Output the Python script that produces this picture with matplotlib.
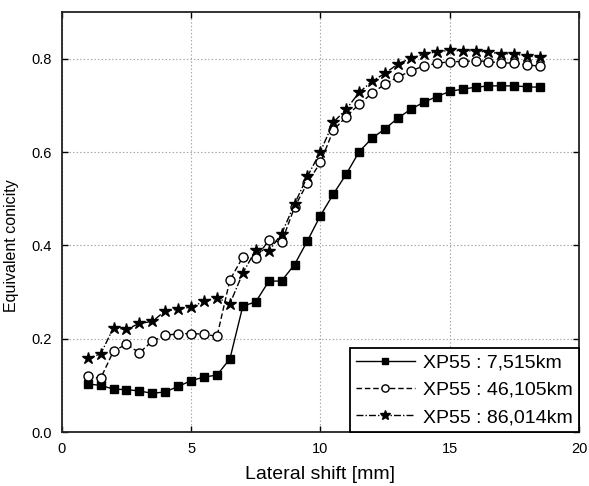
import numpy as np
import matplotlib.pyplot as plt

plt.rcParams['font.family'] = ['Liberation Sans', 'DejaVu Sans']

# lateral shift positions [mm]
shift = [1.0, 1.5, 2.0, 2.5, 3.0, 3.5, 4.0, 4.5, 5.0, 5.5, 6.0, 6.5,
         7.0, 7.5, 8.0, 8.5, 9.0, 9.5, 10.0, 10.5, 11.0, 11.5, 12.0, 12.5,
         13.0, 13.5, 14.0, 14.5, 15.0, 15.5, 16.0, 16.5, 17.0, 17.5, 18.0, 18.5]

# equivalent conicity
con_7515 = [0.103, 0.100, 0.092, 0.091, 0.088, 0.083, 0.086, 0.098, 0.110, 0.118, 0.122, 0.157,
            0.270, 0.279, 0.323, 0.324, 0.359, 0.410, 0.464, 0.510, 0.553, 0.601, 0.630, 0.650,
            0.673, 0.692, 0.707, 0.719, 0.730, 0.735, 0.739, 0.742, 0.742, 0.742, 0.740, 0.739]
con_46105 = [0.120, 0.115, 0.174, 0.188, 0.170, 0.195, 0.207, 0.211, 0.211, 0.210, 0.205, 0.326,
             0.375, 0.372, 0.411, 0.407, 0.482, 0.534, 0.578, 0.647, 0.676, 0.703, 0.726, 0.746,
             0.761, 0.774, 0.785, 0.790, 0.794, 0.794, 0.796, 0.794, 0.791, 0.791, 0.787, 0.784]
con_86014 = [0.158, 0.167, 0.224, 0.220, 0.233, 0.237, 0.260, 0.263, 0.268, 0.280, 0.288, 0.275,
             0.341, 0.390, 0.388, 0.425, 0.489, 0.548, 0.601, 0.664, 0.692, 0.728, 0.752, 0.769,
             0.789, 0.801, 0.810, 0.815, 0.818, 0.817, 0.817, 0.814, 0.811, 0.810, 0.806, 0.803]

labels = ['XP55 : 7,515km', 'XP55 : 46,105km', 'XP55 : 86,014km']

fig = plt.figure(figsize=(5.89, 4.86), dpi=100)
ax = fig.add_axes([0.105, 0.111, 0.878, 0.864])

ax.plot(shift, con_7515, color='black', ls='-', lw=1.0, marker='s', ms=6,
        mfc='black', label=labels[0])
ax.plot(shift, con_46105, color='black', ls=(0, (4, 2)), lw=1.0, marker='o', ms=6.5,
        mfc='white', mew=1.0, label=labels[1])
ax.plot(shift, con_86014, color='black', ls=(0, (5, 1.5, 1, 1.5)), lw=1.0, marker='*', ms=9,
        mfc='black', label=labels[2])

ax.set_xlim(0, 20)
ax.set_ylim(0, 0.9)
ax.set_xticks([0, 5, 10, 15, 20])
ax.set_yticks([0.0, 0.2, 0.4, 0.6, 0.8])
ax.set_yticklabels(['0.0', '0.2', '0.4', '0.6', '0.8'])

ax.grid(True, ls=(0, (1.2, 2)), color='#a0a0a0', lw=0.8)
ax.tick_params(direction='in', length=4, width=1, top=True, right=True,
               labelsize=10.5, pad=7)
for s in ax.spines.values():
    s.set_linewidth(1.3)
    s.set_color('#222222')

ax.set_xlabel('Lateral shift [mm]', fontsize=14)
ax.set_ylabel('Equivalent conicity', fontsize=11.5)
ax.xaxis.set_label_coords(0.5, -0.08)
ax.yaxis.set_label_coords(-0.083, 0.443)

leg = ax.legend(loc='lower right', fontsize=14, frameon=True, fancybox=False,
                edgecolor='black', framealpha=1, borderaxespad=0, handlelength=3.0,
                handletextpad=0.45, borderpad=0.3, labelspacing=0.5, markerscale=0.8)
leg.get_frame().set_linewidth(1.3)

fig.savefig('out.png', dpi=100)
